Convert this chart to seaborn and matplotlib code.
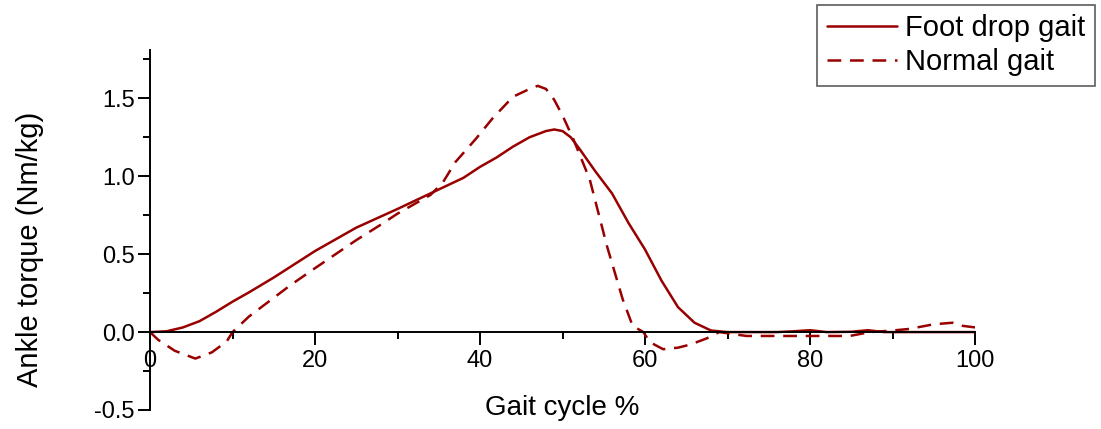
import pandas as pd
import matplotlib
matplotlib.use("Agg")
import matplotlib.pyplot as plt
from matplotlib.ticker import MultipleLocator
import seaborn as sns

# values
x_foot = [0, 2, 4, 6, 8, 10, 12, 15, 20, 25, 30, 34, 38, 40, 42, 44, 46, 48, 49,
          50, 51, 52, 54, 56, 58, 60, 62, 64, 66, 68, 70, 76, 78, 80, 82, 85, 87,
          89, 100]
y_foot = [0, 0.005, 0.03, 0.07, 0.13, 0.195, 0.255, 0.35, 0.52, 0.67, 0.79, 0.89,
          0.99, 1.06, 1.12, 1.19, 1.25, 1.29, 1.30, 1.29, 1.25, 1.18, 1.03, 0.89,
          0.70, 0.53, 0.33, 0.16, 0.06, 0.01, 0, 0, 0.005, 0.012, 0, 0.002, 0.012,
          0, 0]

x_norm = [0, 1, 3, 5.5, 7.5, 9.3, 10, 12, 15, 17, 20, 22.5, 25, 28, 30, 32, 34,
          35.5, 37, 39.5, 41.5, 44, 46, 47, 48, 49, 50, 51.3, 53.3, 55.4, 57.3,
          58.5, 59.8, 60.6, 62.2, 64, 65.5, 67.5, 69, 72.3, 80, 84.8, 87.3, 90,
          92, 95, 97.3, 98.5, 100]
y_norm = [0, -0.05, -0.12, -0.17, -0.13, -0.06, 0, 0.10, 0.22, 0.30, 0.41, 0.50,
          0.59, 0.69, 0.76, 0.82, 0.88, 0.96, 1.09, 1.24, 1.37, 1.51, 1.56, 1.58,
          1.56, 1.49, 1.39, 1.24, 0.98, 0.55, 0.21, 0.04, 0, -0.065, -0.11, -0.10,
          -0.08, -0.04, 0, -0.025, -0.025, -0.025, 0, 0.01, 0.02, 0.05, 0.06,
          0.04, 0.03]

names = ["Foot drop gait", "Normal gait"]

df = pd.concat([
    pd.DataFrame({"x": x_foot, "y": y_foot, "gait": names[0]}),
    pd.DataFrame({"x": x_norm, "y": y_norm, "gait": names[1]}),
])

sns.set_style("ticks")
plt.rcParams['font.family'] = ['Liberation Sans', 'DejaVu Sans']
plt.rcParams['text.color'] = 'black'
plt.rcParams['xtick.color'] = 'black'
plt.rcParams['ytick.color'] = 'black'
plt.rcParams['axes.labelcolor'] = 'black'

red = "#990000"
fig = plt.figure(figsize=(11.01, 4.29), dpi=100)
ax = fig.add_axes([150/1101, 19/429, 825/1101, 360/429])

sns.lineplot(data=df, x="x", y="y", hue="gait", style="gait",
             palette={names[0]: red, names[1]: red},
             dashes={names[0]: "", names[1]: (5.5, 3.5)},
             estimator=None, linewidth=1.8, ax=ax)

ax.set_xlim(0, 100)
ax.set_ylim(-0.5, 1.81)
ax.spines['top'].set_visible(False)
ax.spines['right'].set_visible(False)
ax.spines['bottom'].set_position(('data', 0))
for s in ('left', 'bottom'):
    ax.spines[s].set_linewidth(1.4)
    ax.spines[s].set_color('black')

ax.xaxis.set_major_locator(MultipleLocator(20))
ax.xaxis.set_minor_locator(MultipleLocator(10))
ax.yaxis.set_major_locator(MultipleLocator(0.5))
ax.yaxis.set_minor_locator(MultipleLocator(0.25))
ax.tick_params(which='major', length=9, width=1.4, labelsize=17, color='black')
ax.tick_params(which='minor', length=5, width=1.4, color='black')
ax.tick_params(axis='y', pad=2)
ax.tick_params(axis='x', pad=4)
ax.set_yticks([-0.5, 0, 0.5, 1.0, 1.5])
ax.set_yticklabels(["-0.5", "0.0", "0.5", "1.0", "1.5"])

ax.set_xlabel("Gait cycle %", fontsize=20, va='center')
ax.xaxis.set_label_coords(0.5, 0.005)
ax.set_ylabel("Ankle torque (Nm/kg)", fontsize=21, va='center')
ax.yaxis.set_label_coords(-0.145, 0.445)

handles, labels = ax.get_legend_handles_labels()
ax.get_legend().remove()
leg = fig.legend(handles, labels, loc='upper right',
                 bbox_to_anchor=(1095/1101, 1 - 5/429), fontsize=21,
                 frameon=True, fancybox=False, edgecolor='#333333',
                 handlelength=2.4, handletextpad=0.3, labelspacing=0.2,
                 borderpad=0.32, borderaxespad=0)
leg.get_frame().set_linewidth(1.2)

plt.savefig("out.png", dpi=100)
